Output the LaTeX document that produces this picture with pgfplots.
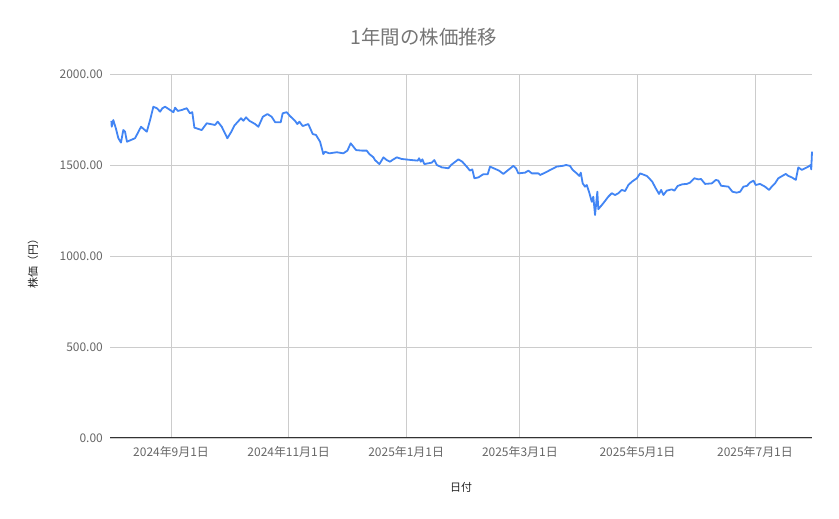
\documentclass[border=0pt]{standalone}
\usepackage{fontspec}
\setmainfont{Noto Sans CJK JP}
\usepackage{pgfplots}
\pgfplotsset{compat=1.18}
\definecolor{linec}{HTML}{4285F4}
\definecolor{gridc}{HTML}{CCCCCC}
\definecolor{tickc}{HTML}{666666}
\definecolor{titlec}{HTML}{757575}
\definecolor{labc}{HTML}{222222}
\definecolor{axisc}{HTML}{333333}
\begin{document}
\begin{tikzpicture}[x=1bp,y=1bp]
\path[use as bounding box] (0,0) rectangle (839,519);
\begin{axis}[
    at={(110bp,81bp)}, anchor=south west,
    scale only axis,
    width=702bp, height=364bp,
    xmin=-0.7, xmax=363.6,
    ymin=0, ymax=2000,
    axis x line=bottom, axis y line=left,
    x axis line style={-, draw=axisc, line width=1bp},
    y axis line style={draw=none},
    major tick length=0pt,
    grid=major,
    major grid style={draw=gridc, line width=0.8bp},
    xtick={31,92,153,212,273,334},
    xticklabels={2024年9月1日,2024年11月1日,2025年1月1日,2025年3月1日,2025年5月1日,2025年7月1日},
    ytick={0,500,1000,1500,2000},
    tick label style={font=\fontsize{12}{14}\selectfont, text=tickc, inner sep=0pt},
    xticklabel style={yshift=-8bp},
    yticklabel style={xshift=-7bp,
      /pgf/number format/fixed, /pgf/number format/fixed zerofill,
      /pgf/number format/precision=2, /pgf/number format/1000 sep={},
      /pgf/number format/assume math mode=true},
    clip=false,
  ]
\addplot[linec, line width=1.8bp, line join=round, no markers] coordinates {
(0,1742) (0.2,1710) (1.0,1747) (2.3,1703) (3.6,1648) (5.0,1623) (6.2,1692) (7.1,1683)
(8.1,1628) (12.3,1647) (15.4,1710) (18.4,1683) (20.1,1747) (21.8,1820) (23.6,1812) (25.3,1793)
(26.5,1812) (27.9,1820) (30.5,1802) (32.2,1790) (33.1,1815) (34.5,1797) (36.5,1802) (39.1,1812)
(40.8,1784) (42.0,1790) (43.1,1705) (46.9,1692) (49.5,1729) (53.8,1720) (55.2,1738) (57.3,1710)
(60.2,1647) (62.1,1680) (63.8,1716) (67.3,1757) (68.5,1743) (69.9,1762) (71.6,1743) (74.6,1725)
(76.3,1710) (78.6,1765) (81.0,1780) (83.2,1765) (85.0,1735) (87.9,1735) (88.9,1784) (91.0,1790)
(92.7,1769) (95.3,1743) (96.5,1725) (97.6,1738) (99.3,1714) (102.2,1725) (104.5,1670) (106.2,1665)
(108.3,1628) (110.0,1560) (110.9,1573) (113.1,1564) (117.0,1570) (120.4,1564) (122.5,1579) (124.2,1619)
(127.0,1582) (129.9,1579) (132.5,1579) (133.9,1560) (136.0,1542) (136.8,1527) (139.1,1505) (141.2,1542)
(142.9,1527) (144.6,1518) (145.8,1527) (148.1,1542) (150.7,1533) (155.9,1527) (159.0,1524) (159.7,1537)
(160.6,1518) (161.4,1531) (162.4,1505) (166.3,1513) (167.6,1527) (168.9,1500) (171.5,1487) (174.9,1482)
(176.3,1500) (180.1,1531) (182.1,1518) (184.4,1491) (186.1,1469) (187.3,1476) (188.4,1427) (190.5,1432)
(193.0,1449) (195.3,1449) (196.5,1491) (201.2,1469) (203.4,1451) (206.0,1473) (208.6,1495) (210.0,1482)
(211.2,1454) (214.7,1458) (216.4,1469) (218.2,1454) (221.6,1454) (222.5,1445) (225.1,1458) (231.1,1491)
(234.6,1496) (236.0,1500) (238.0,1495) (239.4,1473) (241.5,1454) (242.9,1440) (243.6,1458) (244.6,1399)
(245.8,1381) (246.7,1390) (248.1,1345) (249.3,1298) (250.1,1326) (251.0,1225) (252.2,1353) (252.7,1257)
(255.3,1290) (257.9,1326) (259.7,1345) (261.4,1335) (263.1,1345) (264.9,1363) (266.6,1357) (268.3,1390)
(270.1,1408) (272.7,1427) (274.4,1454) (277.8,1440) (279.6,1421) (280.7,1408) (282.5,1372) (284.2,1341)
(285.3,1363) (286.5,1335) (288.2,1359) (290.8,1366) (292.2,1359) (293.9,1385) (296.3,1394) (298.6,1396)
(300.3,1403) (302.5,1427) (304.6,1421) (306.0,1423) (308.1,1396) (311.6,1399) (313.7,1418) (315.0,1414)
(316.4,1386) (320.2,1381) (322.3,1353) (324.5,1348) (326.3,1353) (328.0,1381) (329.8,1385) (331.4,1403)
(333.2,1414) (334.4,1390) (336.6,1396) (339.2,1381) (341.3,1363) (342.7,1381) (344.4,1399) (346.1,1427)
(348.2,1440) (350.0,1451) (351.3,1440) (353.1,1432) (355.2,1418) (356.5,1487) (358.3,1473) (361.7,1491)
(362.9,1500) (363.2,1476) (363.6,1573)
};
\end{axis}
\node[text=titlec, font=\fontsize{19.5}{22}\selectfont] at (424,481.5) {1年間の株価推移};
\node[text=labc, font=\fontsize{11}{13}\selectfont] at (461,32) {日付};
\node[text=labc, font=\fontsize{11}{13}\selectfont, rotate=90] at (33,258) {株価（円）};
\end{tikzpicture}
\end{document}
